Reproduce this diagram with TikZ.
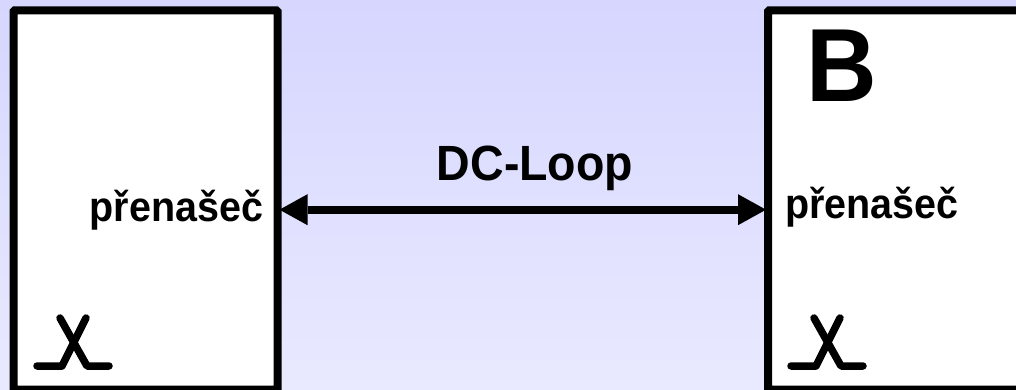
\documentclass[tikz,border=0pt]{standalone}
\usepackage{fontspec}
\usepackage{graphicx}
\setmainfont{Liberation Sans}
\usetikzlibrary{arrows.meta}
\definecolor{bgtop}{HTML}{D6D6FF}
\definecolor{bgbot}{HTML}{E9E9FF}
\tikzset{
  box/.style={draw=black,fill=white,line width=8pt,inner sep=0pt,minimum width=264pt,minimum height=379pt,rounded corners=1pt},
  lbl/.style={font=\bfseries,inner sep=0pt,text=black},
  wire/.style={line width=8pt,shorten <=-2pt,shorten >=-2pt,{Triangle[length=28pt,width=31pt,line width=0pt]}-{Triangle[length=28pt,width=31pt,line width=0pt]}},
  symb/.style={line width=7.5pt,line cap=round,line join=round}
}
\begin{document}
\begin{tikzpicture}[x=1pt,y=-1pt]
\useasboundingbox (0,0) rectangle (1016,390);
\clip (0,0) rectangle (1016,390);
\shade[top color=bgtop,bottom color=bgbot] (0,0) rectangle (1016,390);
\node[box] (A) at (145.5,200) {};
\node[box] (Bx) at (900,200) {};
\coordinate (pa) at ([yshift=-9.7pt]A.east);
\coordinate (pb) at (pa -| Bx.west);
\draw[wire] (pa) -- (pb);
\node[lbl,font=\bfseries\fontsize{49.5}{50}\selectfont,anchor=base] (dc) at (535,181) {\scalebox{.94}[1]{DC-Loop}};
\node[lbl,font=\bfseries\fontsize{104}{104}\selectfont,anchor=base] (B) at (842,102) {\scalebox{.94}[1]{B}};
\node[lbl,font=\bfseries\fontsize{42}{42}\selectfont,anchor=base] (pA) at (176.5,221.5) {\scalebox{.94}[1]{přenašeč}};
\node[lbl,font=\bfseries\fontsize{42}{42}\selectfont,anchor=base] (pB) at (872,218) {\scalebox{.94}[1]{přenašeč}};
\foreach \dx in {0,754}{
  \draw[symb,xshift=\dx pt] (37,366) -- (62,366) -- (86,318);
  \draw[symb,xshift=\dx pt] (60,318) -- (87,366) -- (109,366);
}
\end{tikzpicture}
\end{document}
